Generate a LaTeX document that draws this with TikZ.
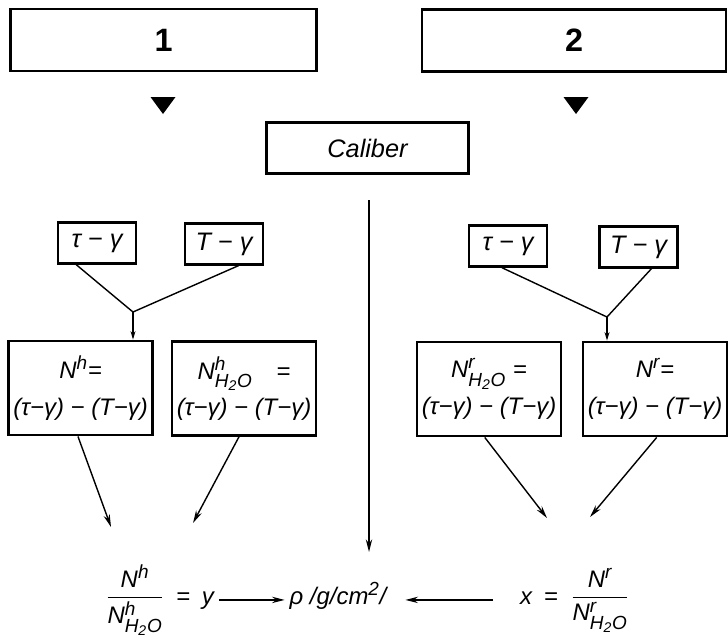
\documentclass[tikz,border=0pt]{standalone}
\usepackage{amsmath}
\usepackage{fontspec}
\setmainfont{Liberation Sans}
\usetikzlibrary{arrows.meta, positioning}
\DeclareMathSizes{17}{17}{13.5}{10}

\newcommand{\wat}{\text{H}_{\text{2}}\text{O}}
\newcommand{\Nsym}[2]{\ensuremath{\text{N}^{\text{#1}}_{#2}}}
\newcommand{\diffs}{(τ−γ) − (T−γ)}

\begin{document}
\begin{tikzpicture}[
x=0.025cm, y=-0.025cm,
every node/.style={font=\fontsize{17}{26}\selectfont\itshape},
bigbox/.style={draw, rectangle, line width=2pt, minimum width=7.65cm, minimum height=1.55cm, font=\fontsize{23}{26}\selectfont\bfseries},
calbox/.style={draw, rectangle, line width=2pt, minimum width=5.05cm, minimum height=1.28cm, font=\fontsize{18}{22}\selectfont\itshape},
smallbox/.style={draw, rectangle, line width=1.7pt, minimum width=1.95cm, minimum height=1.02cm, font=\fontsize{18}{22}\selectfont\itshape},
box/.style={draw, rectangle, line width=2pt, align=center, minimum width=3.6cm, minimum height=2.35cm, inner sep=1pt},
eqn/.style={anchor=base, text height=1.6ex, text depth=0.5ex},
line/.style={line width=1pt},
arrow/.style={-{Stealth[length=9pt, width=4.5pt]}, line width=1pt},
stub/.style={-{Stealth[length=6pt, width=3.5pt]}, line width=1pt}
]
\useasboundingbox (0,0) rectangle (728,641);

% the two series
\node[bigbox] (one) at (163.5,40) {1};
\node[bigbox, minimum width=7.6cm] (two) at (574,40.5) {2};
\foreach \xt in {163,576}
  \fill (\xt-12.5,97) -- (\xt+12.5,97) -- (\xt,114) -- cycle;

\node[calbox] (cal) at (367.5,148) {Caliber};

% differences
\node[smallbox] (ltau) at (97,243) {τ − γ};
\node[smallbox] (lT) at (224,244) {T − γ};
\node[smallbox] (rtau) at (508,246) {τ − γ};
\node[smallbox] (rT) at (638.5,247) {T − γ};

\node[box] (nh) at (80.5,388) {\Nsym{h}{}=\\ \diffs};
\node[box] (nhw) at (244,388.5) {\Nsym{h}{\wat}\quad=\\ \diffs};
\node[box] (nrw) at (489,389) {\Nsym{r}{\wat} =\\ \diffs};
\node[box] (nr) at (655,389) {\Nsym{r}{}=\\ \diffs};

% result line
\node[anchor=base] (fh) at (135,604) {$\dfrac{\text{N}^{\text{h}}}{\text{N}^{\text{h}}_{\wat}}$};
\node[eqn] (ey) at (195,604) {=\enspace y};
\node[eqn] (rho) at (338,604) {ρ /g/cm$^{\text{2}}$/};
\node[eqn] (xeq) at (539,604) {x\enspace=};
\node[anchor=base] (fr) at (600,604) {$\dfrac{\text{N}^{\text{r}}}{\text{N}^{\text{r}}_{\wat}}$};

\coordinate (jl) at (133,312);
\coordinate (jr) at (607,317);
\coordinate (vtop) at (369,200);
\coordinate (vtip) at (369,552);
\coordinate (tiph) at (111,527);
\coordinate (tiphw) at (193,523);
\coordinate (tiprw) at (547,518);
\coordinate (tipr) at (590,517);

\draw[line] (ltau.-134) -- (jl) -- (lT.-56);
\draw[stub] (jl) -- (jl |- nh.north);
\draw[line] (rtau.-106) -- (jr) -- (rT.-59);
\draw[stub] (jr) -- (jr |- nr.north);

\draw[arrow] (nh.-93) -- (tiph);
\draw[arrow] (nhw.-96) -- (tiphw);
\draw[arrow] (nrw.-95) -- (tiprw);
\draw[arrow] (nr.-88) -- (tipr);
\draw[arrow] (vtop) -- (vtip);

\draw[arrow] (ey) -- (rho);
\draw[arrow, shorten <=0.55cm, shorten >=0.35cm] (xeq) -- (rho);

\end{tikzpicture}
\end{document}
